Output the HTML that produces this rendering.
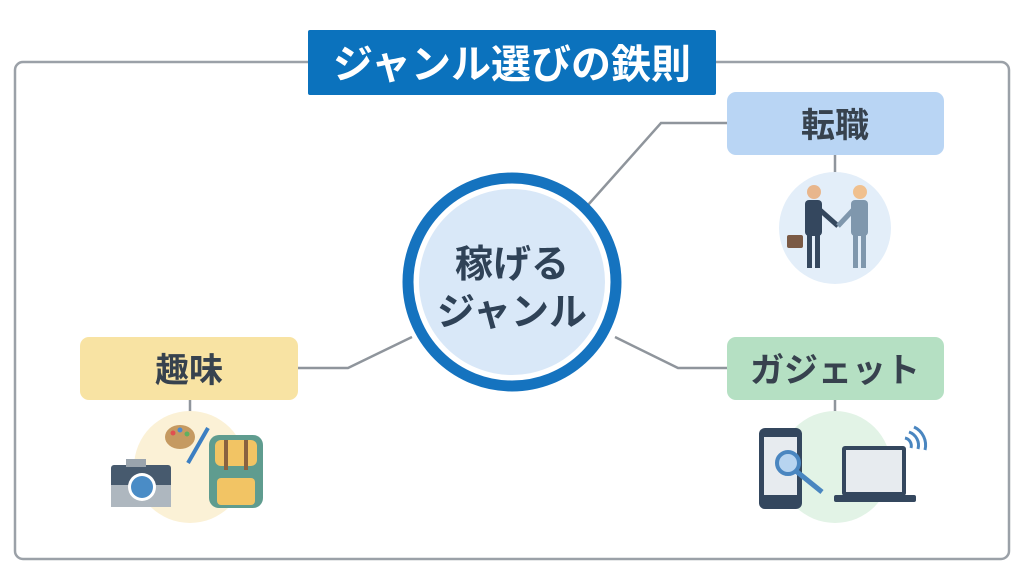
<!DOCTYPE html>
<html><head><meta charset="utf-8"><style>
body{margin:0;width:1024px;height:572px;background:#fff;overflow:hidden;font-family:"Liberation Sans","Noto Sans CJK JP",sans-serif;}
</style></head><body>
<svg width="1024" height="572" viewBox="0 0 1024 572" xmlns="http://www.w3.org/2000/svg" font-family="'Liberation Sans','Noto Sans CJK JP',sans-serif">
<rect x="15" y="62" width="994" height="497" rx="8" fill="none" stroke="#9ba1a8" stroke-width="2.5"/>
<rect x="308" y="30" width="408" height="65" rx="2" fill="#0b72bd"/>
<text x="512" y="78" text-anchor="middle" font-size="40" font-weight="bold" fill="#fff">ジャンル選びの鉄則</text>
<g stroke="#8f959c" stroke-width="2.5" fill="none">
<polyline points="727,123 661,123 588,205"/>
<polyline points="298,368 348,368 412,337"/>
<polyline points="727,368 678,368 615,337"/>
<line x1="835" y1="155" x2="835" y2="175"/>
<line x1="190" y1="400" x2="190" y2="415"/>
<line x1="835" y1="400" x2="835" y2="415"/>
</g>
<circle cx="512" cy="282" r="104" fill="#fff" stroke="#1573bf" stroke-width="11"/>
<circle cx="512" cy="282" r="93" fill="#d9e8f8"/>
<text x="512" y="277" text-anchor="middle" font-size="38" font-weight="bold" fill="#2f4257">稼げる</text>
<text x="512" y="325" text-anchor="middle" font-size="38" font-weight="bold" fill="#2f4257">ジャンル</text>
<rect x="727" y="92" width="217" height="63" rx="9" fill="#b9d5f4"/>
<text x="835" y="137" text-anchor="middle" font-size="34" font-weight="bold" fill="#37424e">転職</text>
<rect x="80" y="337" width="218" height="63" rx="9" fill="#f8e3a3"/>
<text x="189" y="382" text-anchor="middle" font-size="34" font-weight="bold" fill="#37424e">趣味</text>
<rect x="727" y="337" width="217" height="63" rx="9" fill="#b5e0c3"/>
<text x="835" y="382" text-anchor="middle" font-size="34" font-weight="bold" fill="#37424e">ガジェット</text>
<circle cx="835" cy="228" r="56" fill="#e3eef9"/>
<circle cx="190" cy="467" r="56" fill="#fbf1d6"/>
<circle cx="835" cy="467" r="56" fill="#e2f3e6"/>
<circle cx="814" cy="192" r="7" fill="#e8b68c"/>
<rect x="805" y="200" width="17" height="36" rx="4" fill="#34475e"/>
<rect x="807" y="234" width="5" height="34" fill="#34475e"/><rect x="815" y="234" width="5" height="34" fill="#34475e"/>
<rect x="787" y="235" width="16" height="13" rx="2" fill="#7b5a45"/>
<circle cx="860" cy="192" r="7" fill="#f0c08e"/>
<rect x="851" y="200" width="17" height="36" rx="4" fill="#7f97ad"/>
<rect x="853" y="234" width="5" height="34" fill="#7f97ad"/><rect x="861" y="234" width="5" height="34" fill="#7f97ad"/>
<line x1="820" y1="210" x2="838" y2="226" stroke="#34475e" stroke-width="5"/>
<line x1="853" y1="210" x2="838" y2="226" stroke="#7f97ad" stroke-width="5"/>
<rect x="111" y="465" width="60" height="42" rx="3" fill="#475a6e"/>
<rect x="111" y="485" width="60" height="22" fill="#aeb7bf"/>
<rect x="126" y="459" width="20" height="8" fill="#9aa4ad"/>
<circle cx="142" cy="487" r="14" fill="#fff"/><circle cx="142" cy="487" r="11" fill="#4a8cc6"/>
<ellipse cx="180" cy="437" rx="15" ry="12" fill="#c59a61"/>
<circle cx="173" cy="433" r="2.5" fill="#e05050"/><circle cx="180" cy="430" r="2.5" fill="#4a8ad0"/><circle cx="187" cy="434" r="2.5" fill="#60b060"/>
<line x1="208" y1="428" x2="188" y2="463" stroke="#3c7fc2" stroke-width="4"/>
<rect x="209" y="435" width="54" height="73" rx="10" fill="#5f9c8f"/>
<rect x="215" y="440" width="42" height="26" rx="6" fill="#f2c464"/>
<rect x="217" y="478" width="38" height="27" rx="4" fill="#f2c464"/>
<rect x="224" y="440" width="4" height="30" fill="#8a6240"/><rect x="244" y="440" width="4" height="30" fill="#8a6240"/>
<rect x="759" y="428" width="43" height="81" rx="6" fill="#34475e"/>
<rect x="764" y="437" width="33" height="58" fill="#e7ebef"/>
<circle cx="788" cy="463" r="11" fill="#b7d4f0" stroke="#4a86c0" stroke-width="4"/>
<line x1="796" y1="471" x2="822" y2="492" stroke="#4a86c0" stroke-width="5"/>
<rect x="842" y="446" width="64" height="50" rx="3" fill="#34475e"/>
<rect x="846" y="450" width="56" height="42" fill="#e7ebef"/>
<rect x="834" y="495" width="82" height="7" rx="2" fill="#34475e"/>
<path d="M905 438 a8 8 0 0 1 6 10 M909 432 a14 14 0 0 1 9 17 M914 427 a20 20 0 0 1 11 23" stroke="#4a86c0" stroke-width="3" fill="none"/>
</svg>
</body></html>
